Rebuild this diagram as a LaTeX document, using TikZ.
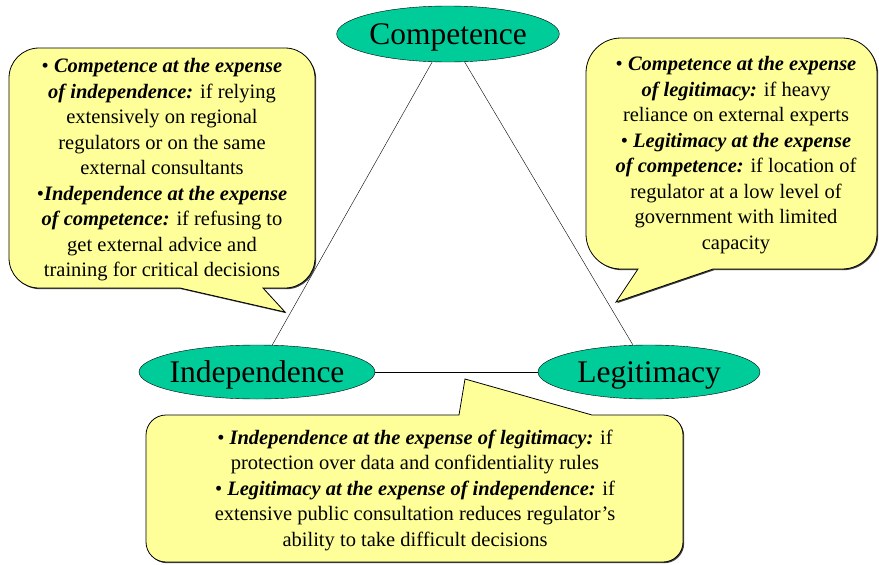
\documentclass[tikz,border=0pt]{standalone}
\usepackage{fontspec}
\setmainfont{Liberation Serif}
\usetikzlibrary{shapes.geometric,shadows}
\definecolor{callyellow}{HTML}{FFFF99}
\definecolor{ovalgreen}{HTML}{00CC99}
\newcommand{\lead}[1]{\textbf{\textit{#1}}}
\tikzset{
  oval/.style={draw, ellipse, fill=ovalgreen, inner sep=0pt, text height=20.5pt, text depth=0pt,
    font=\fontsize{31.5}{31.5}\selectfont},
  callbox/.style={draw, fill=callyellow, line width=0.8pt,
    drop shadow={shadow xshift=1.2pt, shadow yshift=-1.2pt, fill=black!75, opacity=1}},
  calltext/.style={align=center, inner sep=0pt, font=\fontsize{20.5}{25.5}\selectfont}
}

\begin{document}
\begin{tikzpicture}[x=1pt, y=-1pt]
            \useasboundingbox (0,0) rectangle (879,565);

            \node[oval, minimum width=222pt, minimum height=56pt] (comp) at (448,34) {Competence};
            \node[oval, inner xsep=-5pt, minimum width=236pt, minimum height=54pt] (indep) at (257,372) {Independence};
            \node[oval, minimum width=222pt, minimum height=54pt] (legit) at (649,372) {Legitimacy};

            \draw (comp) -- (indep);
            \draw (comp) -- (legit);
            \draw (indep) -- (legit);

            \draw[callbox] (9,170) [rounded corners=30pt] -- (9,288) [sharp corners]
                -- (180,288) -- (285,312) -- (263,288) [rounded corners=30pt]
                -- (315,288) -- (315,48) -- (9,48) -- cycle;
            \draw[callbox] (586,150) [rounded corners=35pt] -- (586,38) -- (877,38) -- (877,269) [sharp corners]
                -- (713,269) -- (616,302) -- (638,269) [rounded corners=35pt]
                -- (586,269) -- cycle;
            \draw[callbox] (146,490) [rounded corners=20pt] -- (146,415) [sharp corners]
                -- (459,415) -- (465,379) -- (592,415) [rounded corners=20pt]
                -- (683,415) -- (683,562) -- (146,562) -- cycle;

            \node[calltext] (costL) at (162,170) {%
                • \lead{Competence at the expense}\\
                \lead{of independence:} if relying\\
                extensively on regional\\
                regulators or on the same\\
                external consultants\\
                •\lead{Independence at the expense}\\
                \lead{of competence:} if refusing to\\
                get external advice and\\
                training for critical decisions};
            \node[calltext] (costR) at (736,155) {%
                • \lead{Competence at the expense}\\
                \lead{of legitimacy:} if heavy\\
                reliance on external experts\\
                • \lead{Legitimacy at the expense}\\
                \lead{of competence:} if location of\\
                regulator at a low level of\\
                government with limited\\
                capacity};
            \node[calltext] (costB) at (415,490) {%
                • \lead{Independence at the expense of legitimacy:} if\\
                protection over data and confidentiality rules\\
                • \lead{Legitimacy at the expense of independence:} if\\
                extensive public consultation reduces regulator’s\\
                ability to take difficult decisions};
        \end{tikzpicture}
\end{document}
